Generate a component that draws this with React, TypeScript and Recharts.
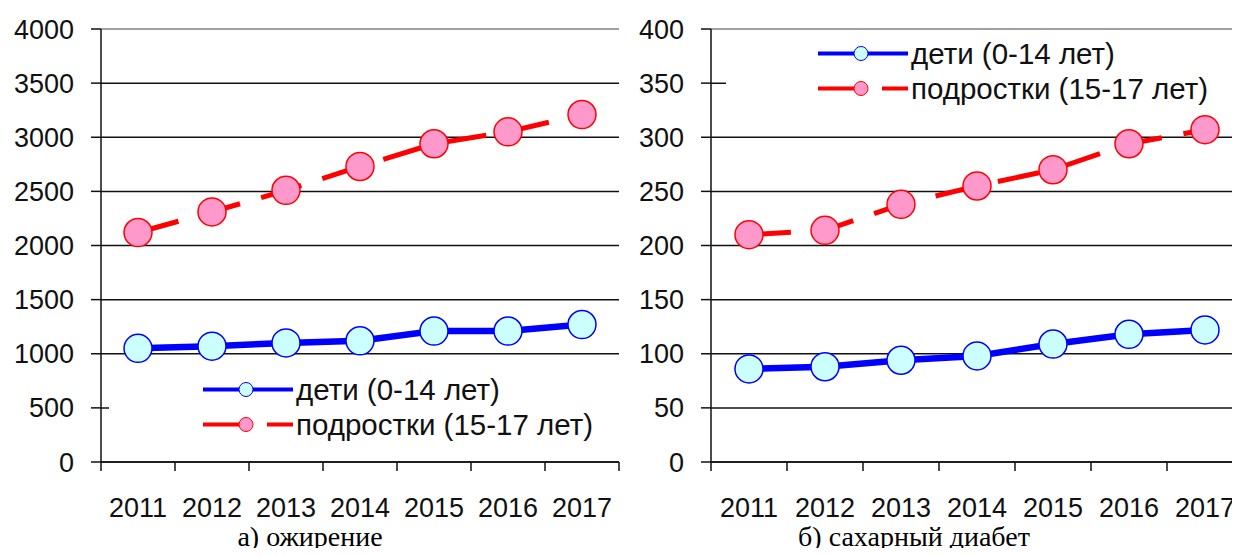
import React from 'react';
import {
  ComposedChart,
  Line,
  XAxis,
  YAxis,
  CartesianGrid,
  ReferenceLine
} from 'recharts';

const years = ['2011', '2012', '2013', '2014', '2015', '2016', '2017'];

// а) ожирение
const obesityChildren = [1050, 1070, 1100, 1120, 1210, 1210, 1270];
const obesityTeens = [2120, 2310, 2510, 2730, 2940, 3050, 3210];
const obesityTicks = [0, 500, 1000, 1500, 2000, 2500, 3000, 3500, 4000];

// б) сахарный диабет
const diabetesChildren = [86, 88, 94, 98, 109, 118, 122];
const diabetesTeens = [210, 214, 238, 255, 270, 294, 307];
const diabetesTicks = [0, 50, 100, 150, 200, 250, 300, 350, 400];

const seriesNames = ['дети (0-14 лет)', 'подростки (15-17 лет)'];
const captions = ['а) ожирение', 'б) сахарный диабет'];

const BLUE = '#0000ff';
const RED = '#ff0000';
const INK = '#111';
const FONT = '"Liberation Sans", Arial, sans-serif';
const DASH = '42 22';
const TICK_SIZE = 8;
const TICK_MARGIN = 2;

const buildRows = (children: number[], teens: number[]) =>
  years.map((year, i) => ({ year, children: children[i], teens: teens[i] }));

const YearTick = (props: any) => {
  const { x, y, payload, index, band, lastIndex } = props;
  const axisY = y - TICK_SIZE - TICK_MARGIN;
  return (
    <g>
      <line x1={x - band / 2} x2={x - band / 2} y1={axisY} y2={axisY + 9} stroke={INK} strokeWidth={1.5} />
      {index === lastIndex && (
        <line x1={x + band / 2} x2={x + band / 2} y1={axisY} y2={axisY + 9} stroke={INK} strokeWidth={1.5} />
      )}
      <text x={x} y={axisY + 55} textAnchor="middle" fontSize={27} fontFamily={FONT} fill={INK}>
        {payload.value}
      </text>
    </g>
  );
};

const LegendIcon = ({ color, fill, dashed }: { color: string; fill: string; dashed: boolean }) => (
  <svg width={90} height={35} style={{ display: 'block', flex: 'none' }}>
    <line x1={0} x2={90} y1={17.5} y2={17.5} stroke={color} strokeWidth={4} strokeDasharray={dashed ? DASH : undefined} />
    <circle cx={43} cy={17.5} r={7} fill={fill} stroke={color} strokeWidth={1} />
  </svg>
);

const LegendBox = ({ left, top, width, padLeft }: { left: number; top: number; width: number; padLeft: number }) => (
  <div
    style={{
      position: 'absolute',
      left,
      top,
      width,
      paddingLeft: padLeft,
      boxSizing: 'border-box',
      background: '#fff',
      fontFamily: FONT,
      fontSize: 29.5,
      color: INK
    }}
  >
    {[
      { name: seriesNames[0], color: BLUE, fill: '#ccffff', dashed: false },
      { name: seriesNames[1], color: RED, fill: '#ff99cc', dashed: true }
    ].map((r) => (
      <div key={r.name} style={{ display: 'flex', alignItems: 'center', height: 35 }}>
        <LegendIcon color={r.color} fill={r.fill} dashed={r.dashed} />
        <span style={{ marginLeft: 3, whiteSpace: 'nowrap', lineHeight: '35px' }}>{r.name}</span>
      </div>
    ))}
  </div>
);

type PanelProps = {
  children: number[];
  teens: number[];
  ticks: number[];
  width: number;
  axisWidth: number;
  plotWidth: number;
};

const Panel = ({ children, teens, ticks, width, axisWidth, plotWidth }: PanelProps) => {
  const data = buildRows(children, teens);
  const band = plotWidth / years.length;
  const top = ticks[ticks.length - 1];
  return (
    <ComposedChart
      width={width}
      height={556}
      data={data}
      margin={{ top: 29, right: width - axisWidth - plotWidth, left: 0, bottom: 0 }}
    >
      <CartesianGrid vertical={false} stroke={INK} strokeWidth={1.5} />
      <XAxis
        dataKey="year"
        scale="band"
        height={94}
        tickLine={false}
        tickSize={TICK_SIZE}
        tickMargin={TICK_MARGIN}
        axisLine={{ stroke: INK, strokeWidth: 1.5 }}
        tick={(p: any) => <YearTick {...p} band={band} lastIndex={years.length - 1} />}
        interval={0}
      />
      <YAxis
        width={axisWidth}
        domain={[0, top]}
        ticks={ticks}
        interval={0}
        tickSize={10}
        tickMargin={17}
        axisLine={{ stroke: INK, strokeWidth: 1.5 }}
        tickLine={{ stroke: INK, strokeWidth: 1.5 }}
        tick={{ fontSize: 27, fontFamily: FONT, fill: INK }}
      />
      <ReferenceLine y={top} stroke="#a0a0a0" strokeWidth={2} />
      <Line
        dataKey="children"
        name={seriesNames[0]}
        stroke={BLUE}
        strokeWidth={6.5}
        type="linear"
        dot={{ r: 14, fill: '#ccffff', stroke: BLUE, strokeWidth: 1.5, strokeDasharray: 'none' }}
        isAnimationActive={false}
      />
      <Line
        dataKey="teens"
        name={seriesNames[1]}
        stroke={RED}
        strokeWidth={5}
        strokeDasharray={DASH}
        type="linear"
        dot={{ r: 14, fill: '#ff99cc', stroke: RED, strokeWidth: 1.5, strokeDasharray: 'none' }}
        isAnimationActive={false}
      />
    </ComposedChart>
  );
};

const captionStyle: React.CSSProperties = {
  position: 'absolute',
  top: 523,
  fontFamily: '"Liberation Serif", "Times New Roman", serif',
  fontSize: 28,
  lineHeight: '28px',
  color: '#000',
  textAlign: 'center',
  whiteSpace: 'nowrap'
};

export default function App() {
  return (
    <div style={{ position: 'relative', width: 1240, height: 556, margin: -8, overflow: 'hidden', background: '#fff' }}>
      <div style={{ position: 'absolute', left: 0, top: 0 }}>
        <Panel children={obesityChildren} teens={obesityTeens} ticks={obesityTicks} width={640} axisWidth={101} plotWidth={518} />
      </div>
      <div style={{ position: 'absolute', left: 620, top: 0 }}>
        <Panel children={diabetesChildren} teens={diabetesTeens} ticks={diabetesTicks} width={628} axisWidth={91} plotWidth={532} />
      </div>
      <LegendBox left={109} top={372} width={510} padLeft={94} />
      <LegendBox left={726} top={36} width={514} padLeft={92} />
      <div style={{ ...captionStyle, left: 110, width: 400 }}>{captions[0]}</div>
      <div style={{ ...captionStyle, left: 714, width: 400 }}>{captions[1]}</div>
    </div>
  );
}
